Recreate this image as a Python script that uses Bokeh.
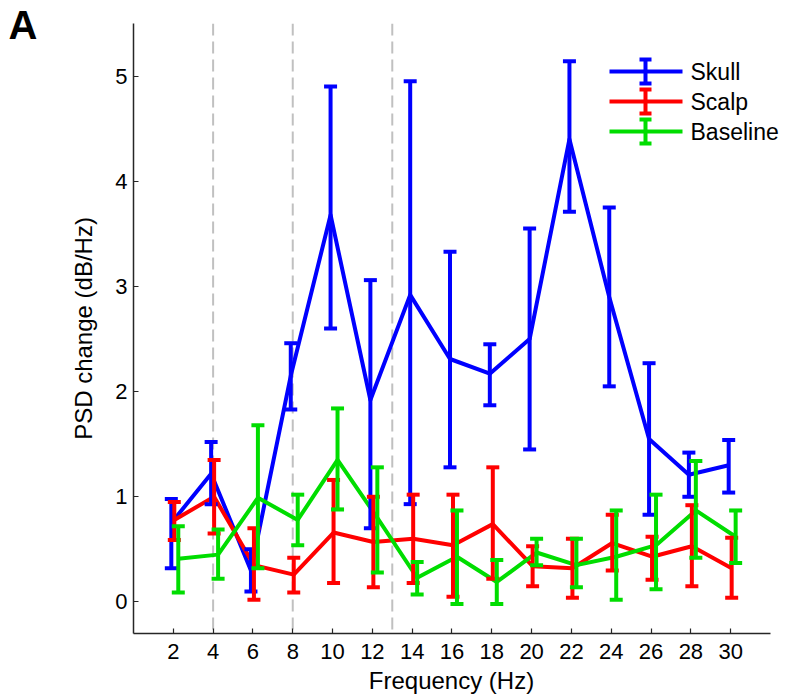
import numpy as np
from bokeh.plotting import figure
from bokeh.models import (Span, Label, Range1d, FixedTicker, ColumnDataSource, Whisker,
                          TeeHead, LinearAxis)
from bokeh.embed import file_html
from bokeh.resources import INLINE

# ---------------- data ----------------
freqs = [2, 4, 6, 8, 10, 12, 14, 16, 18, 20, 22, 24, 26, 28, 30]

skull_mean = [0.75, 1.22, 0.30, 2.15, 3.68, 1.92, 2.92, 2.31, 2.17, 2.50, 4.40, 2.90, 1.55, 1.21, 1.30]
skull_lo   = [0.32, 0.93, 0.10, 1.83, 2.60, 0.70, 0.93, 1.28, 1.87, 1.45, 3.71, 2.05, 0.83, 1.00, 1.04]
skull_hi   = [0.98, 1.52, 0.50, 2.46, 4.90, 3.06, 4.95, 3.33, 2.45, 3.55, 5.14, 3.75, 2.27, 1.42, 1.54]

scalp_mean = [0.78, 1.00, 0.35, 0.26, 0.66, 0.57, 0.60, 0.54, 0.74, 0.34, 0.32, 0.56, 0.43, 0.53, 0.32]
scalp_lo   = [0.59, 0.65, 0.02, 0.09, 0.18, 0.14, 0.18, 0.05, 0.22, 0.15, 0.04, 0.30, 0.21, 0.15, 0.04]
scalp_hi   = [0.95, 1.35, 0.70, 0.42, 1.16, 1.00, 1.02, 1.02, 1.28, 0.53, 0.60, 0.83, 0.62, 0.92, 0.61]

base_mean  = [0.41, 0.45, 0.99, 0.78, 1.35, 0.80, 0.23, 0.43, 0.19, 0.47, 0.35, 0.43, 0.54, 0.87, 0.62]
base_lo    = [0.09, 0.22, 0.32, 0.54, 0.88, 0.28, 0.07, -0.02, -0.02, 0.35, 0.14, 0.02, 0.12, 0.42, 0.37]
base_hi    = [0.72, 0.69, 1.68, 1.02, 1.84, 1.28, 0.38, 0.87, 0.40, 0.60, 0.60, 0.87, 1.02, 1.34, 0.87]

band_edges = [4, 8, 13]
series_names = ["Skull", "Scalp", "Baseline"]
panel_letter = "A"
x_title = "Frequency (Hz)"
y_title = "PSD change (dB/Hz)"

# ---------------- styling ----------------
FONT = "Liberation Sans"
colors = ["#0000ff", "#ff0000", "#00dd00"]
dodge = [-0.1, 0.05, 0.25]

# frame spans to the right canvas edge so the legend text is not clipped;
# the x axis line itself is bounded to 0..32
p = figure(width=785, height=700, x_range=Range1d(0, 32.754), y_range=Range1d(-0.3, 5.5),
           output_backend="svg", toolbar_location=None,
           min_border_left=133, min_border_right=0, min_border_top=23, min_border_bottom=67)
p.outline_line_color = None
p.grid.visible = False
p.background_fill_color = "white"
p.border_fill_color = "white"

for ax in (p.xaxis[0], p.yaxis[0]):
    ax.axis_line_color = "#262626"
    ax.axis_line_width = 1.5
    ax.major_tick_line_color = "#262626"
    ax.major_tick_line_width = 1.2
    ax.major_tick_in = 5
    ax.major_tick_out = 0
    ax.minor_tick_line_color = None
    ax.major_label_text_font = FONT
    ax.major_label_text_font_size = "22px"
    ax.major_label_text_color = "black"
    ax.axis_label_text_font = FONT
    ax.axis_label_text_font_size = "24px"
    ax.axis_label_text_font_style = "normal"
    ax.axis_label_text_color = "black"

p.xaxis.bounds = (0, 32)
p.xaxis.ticker = FixedTicker(ticks=freqs)
p.yaxis.ticker = FixedTicker(ticks=[0, 1, 2, 3, 4, 5])
p.yaxis.axis_label = y_title
p.xaxis.major_label_standoff = 10
p.yaxis.major_label_standoff = 6
p.yaxis.axis_label_standoff = 15

for e in band_edges:
    p.add_layout(Span(location=e, dimension="height", line_color="#c0c0c0",
                      line_width=2, line_dash="12 6", level="underlay"))

datasets = [(skull_mean, skull_lo, skull_hi), (scalp_mean, scalp_lo, scalp_hi),
            (base_mean, base_lo, base_hi)]
for (m, lo, hi), c, d in zip(datasets, colors, dodge):
    src = ColumnDataSource(dict(x=[f + d for f in freqs], m=m, lo=lo, hi=hi))
    w = Whisker(source=src, base="x", lower="lo", upper="hi", dimension="height",
                line_color=c, line_width=4, level="glyph",
                upper_head=TeeHead(size=13, line_color=c, line_width=4),
                lower_head=TeeHead(size=13, line_color=c, line_width=4))
    p.add_layout(w)
    p.line("x", "m", source=src, line_color=c, line_width=4, line_join="round")

# ---------------- manual legend (pixel ranges over the frame) ----------------
p.extra_x_ranges = {"px": Range1d(0, 652)}
p.extra_y_ranges = {"py": Range1d(0, 610)}
row_y = [562, 532, 502]
for name, c, yy in zip(series_names, colors, row_y):
    p.segment(x0=[476], y0=[yy], x1=[549], y1=[yy], line_color=c, line_width=4,
              x_range_name="px", y_range_name="py")
    p.segment(x0=[512], y0=[yy - 12], x1=[512], y1=[yy + 12], line_color=c, line_width=4,
              x_range_name="px", y_range_name="py")
    p.segment(x0=[506, 506], y0=[yy - 12, yy + 12], x1=[518, 518], y1=[yy - 12, yy + 12],
              line_color=c, line_width=4, x_range_name="px", y_range_name="py")
    p.add_layout(Label(x=557, y=yy, x_units="screen", y_units="screen", text=name,
                       text_font=FONT, text_font_size="23px", text_baseline="middle",
                       text_color="black", level="overlay"))


def text_axis(range_name, tick, text, size, style, standoff):
    a = LinearAxis(ticker=FixedTicker(ticks=[tick]), major_label_overrides={tick: text})
    if range_name[0] == "px":
        a.x_range_name = range_name[1]
    else:
        a.y_range_name = range_name[1]
    a.axis_line_color = None
    a.major_tick_line_color = None
    a.minor_tick_line_color = None
    a.major_tick_in = 0
    a.major_tick_out = 0
    a.major_label_standoff = standoff
    a.major_label_text_font = FONT
    a.major_label_text_font_size = size
    a.major_label_text_font_style = style
    a.major_label_text_color = "black"
    return a


# x axis title, centred under the bounded axis line (0..32 → 0..637 px)
p.add_layout(text_axis(("px", "px"), 318, x_title, "24px", "normal", 5), "below")
# panel letter, as the single label of an outer left axis
p.add_layout(text_axis(("py", "py"), 609, panel_letter, "40px", "bold", 30), "left")

open("out.html", "w").write(file_html(p, INLINE))
